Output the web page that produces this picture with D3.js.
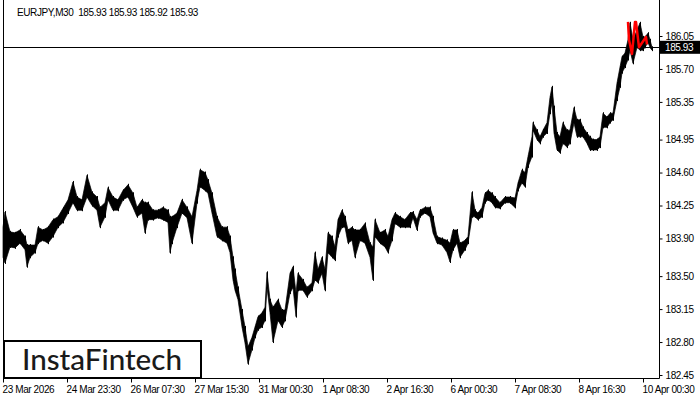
<!DOCTYPE html>
<html lang="en">
	<head>
		<meta charset="utf-8">
		<title>EURJPY M30</title>
		<script type="text/javascript" src="https://cdn.jsdelivr.net/npm/d3@7"></script>
		<style type="text/css">
			body { margin: 0; background: #fff; }
		</style>
	</head>
	<body>
		<script type="text/javascript">

		//Chart data (M30 bars, sampled: bar number, high, low)
		var symbol = "EURJPY,M30";
		var lastQuote = [185.93, 185.93, 185.92, 185.93];
		var lastPrice = 185.93;

		var barIdx = [0,2,7,12,17,22,24,27,32,35,40,45,50,55,60,65,70,74,79,84,
			89,94,97,102,105,110,115,120,125,130,134,139,142,145,150,155,160,165,167,169,
			174,179,184,189,194,197,202,205,209,214,219,224,227,230,232,235,239,242,245,249,
			252,255,259,262,264,267,270,275,279,282,287,290,293,295,300,304,309,312,315,319,
			322,325,329,332,335,339,342,345,349,352,357,362,367,370,372,377,382,385,389,392,
			397,402,407,410,414,417,422,427,430,434,439,444,447,450,454,457,462,465,469,472,
			475,479,482,485,489,492,497,502,507,512,515,519,522,525,529,530,534,537,540,544,
			547,549,551,554,557,560,564,567,571,574,577,580,584,587,590,594,597,600,604,607,
			610,614,617,619,622,625,627,630,634,637,640,642,645,647,649];

		var highs = [184.02,184.18,183.97,183.96,183.99,183.92,183.83,183.83,183.83,184.02,
			183.99,184.02,184.10,184.13,184.22,184.31,184.50,184.34,184.31,184.57,
			184.39,184.34,184.23,184.28,184.44,184.34,184.31,184.41,184.47,184.38,
			184.23,184.31,184.28,184.28,184.20,184.20,184.23,184.20,184.13,184.13,
			184.17,184.31,184.23,184.13,184.41,184.63,184.60,184.52,184.38,184.13,
			184.02,184.02,183.92,183.70,183.57,183.38,183.14,182.96,182.75,182.85,
			182.96,183.07,183.11,183.17,183.54,183.25,183.17,183.25,183.14,183.14,
			183.53,183.60,183.32,183.53,183.46,183.38,183.43,183.75,183.57,183.70,
			183.57,183.96,183.92,183.81,184.10,184.20,184.13,183.99,184.02,183.99,
			183.99,184.06,183.85,183.81,184.10,183.96,183.99,183.92,184.10,184.17,
			184.13,184.10,184.17,184.18,184.10,184.20,184.23,184.23,184.13,183.92,
			183.90,183.88,183.85,183.99,183.99,183.85,183.88,183.92,184.39,184.20,
			184.17,184.23,184.38,184.41,184.38,184.34,184.28,184.34,184.34,184.33,
			184.49,184.63,184.60,184.77,184.98,185.13,185.05,184.98,185.05,185.13,
			185.40,185.51,185.30,185.02,184.98,185.13,185.05,185.05,185.29,185.16,
			185.16,185.08,185.02,184.98,184.95,184.95,184.98,185.23,185.19,185.23,
			185.23,185.55,185.72,185.83,185.87,186.01,186.19,186.01,186.11,186.19,
			186.04,186.04,186.08,186.01,185.93];

		var lows = [183.70,183.64,183.81,183.80,183.85,183.78,183.60,183.70,183.75,183.85,
			183.88,183.85,183.92,184.02,184.07,184.17,184.28,184.20,184.20,184.34,
			184.25,184.20,184.02,184.13,184.31,184.20,184.20,184.31,184.34,184.23,
			184.13,184.17,183.96,184.10,184.10,184.12,184.10,184.07,183.75,183.85,
			184.02,184.17,184.12,183.85,184.28,184.45,184.41,184.38,184.17,183.92,
			183.88,183.85,183.75,183.46,183.35,183.25,182.96,182.79,182.57,182.72,
			182.85,182.93,182.96,183.03,183.38,183.11,182.80,183.03,182.96,183.03,
			183.32,183.38,183.07,183.35,183.35,183.28,183.35,183.46,183.43,183.53,
			183.35,183.75,183.70,183.67,183.92,184.02,184.02,183.85,183.88,183.70,
			183.88,183.85,183.70,183.46,183.92,183.85,183.81,183.75,183.88,184.06,
			184.02,184.02,184.02,184.12,183.99,184.13,184.17,184.13,183.96,183.85,
			183.83,183.75,183.65,183.78,183.85,183.70,183.78,183.85,184.13,184.13,
			184.10,184.13,184.28,184.31,184.28,184.23,184.22,184.28,184.28,184.23,
			184.41,184.49,184.45,184.66,184.77,185.05,184.95,184.91,184.98,185.02,
			185.23,185.34,185.02,184.84,184.81,184.91,184.87,184.91,185.13,184.98,
			184.98,184.98,184.91,184.84,184.84,184.84,184.87,185.08,185.08,185.13,
			185.16,185.37,185.51,185.66,185.72,185.80,185.90,185.76,185.93,185.90,
			185.90,185.93,185.98,185.93,185.90];

		//Red pattern line
		var patternIdx = [625, 626, 629, 632, 633, 636, 643, 644];
		var patternPrice = [186.20, 186.01, 185.86, 186.20, 186.20, 185.93, 186.04, 185.96];

		//Axis labels
		var priceTicks = [186.05, 185.70, 185.35, 184.95, 184.60, 184.25, 183.90, 183.50, 183.15, 182.80, 182.45];
		var timeTickIdx = [0, 64, 128, 192, 256, 320, 384, 448, 512, 576, 640];
		var timeLabels = ["23 Mar 2026", "24 Mar 23:30", "26 Mar 07:30", "27 Mar 15:30", "31 Mar 00:30",
			"1 Apr 08:30", "2 Apr 16:30", "6 Apr 00:30", "7 Apr 08:30", "8 Apr 16:30", "10 Apr 00:30"];

		//Width and height
		var w = 700;
		var h = 400;
		var left = 3, right = 659, bottom = 378;
		var font = "Liberation Sans, Arial, sans-serif";

		var svg = d3.select("body")
					.append("svg")
					.attr("width", w)
					.attr("height", h);

		svg.append("rect").attr("width", w).attr("height", h).attr("fill", "#fff");

		var x = d3.scaleLinear().domain([0, 656]).range([left, right]);
		var y = d3.scaleLinear().domain([182.45, 186.05]).range([375, 36]);

		var bars = barIdx.map(function(d, i) { return { i: d, hi: highs[i], lo: lows[i] }; });

		//Price band (bars)
		var area = d3.area()
					.x(function(d) { return x(d.i); })
					.y0(function(d) { return y(d.lo); })
					.y1(function(d) { return y(d.hi); });

		svg.append("path")
			.datum(bars)
			.attr("d", area)
			.attr("fill", "#000")
			.attr("stroke", "#000")
			.attr("stroke-width", 0.7);

		//High-low bars at each sample
		svg.selectAll("line.bar")
			.data(bars)
			.enter()
			.append("line")
			.attr("class", "bar")
			.attr("x1", function(d) { return Math.round(x(d.i)) + 0.5; })
			.attr("x2", function(d) { return Math.round(x(d.i)) + 0.5; })
			.attr("y1", function(d) { return y(d.hi) - 1; })
			.attr("y2", function(d) { return y(d.lo) + 1; })
			.attr("stroke", "#000")
			.attr("stroke-width", 1);

		//Current price line
		svg.append("line")
			.attr("x1", left).attr("x2", right)
			.attr("y1", Math.round(y(lastPrice)) + 0.5).attr("y2", Math.round(y(lastPrice)) + 0.5)
			.attr("stroke", "#000").attr("stroke-width", 1);

		//Pattern
		var line = d3.line()
					.x(function(d, i) { return x(patternIdx[i]); })
					.y(function(d) { return y(d); });
		svg.append("path")
			.datum(patternPrice)
			.attr("d", line)
			.attr("fill", "none")
			.attr("stroke", "#ff0000")
			.attr("stroke-width", 2.5)
			.attr("stroke-linejoin", "round");

		//Frame
		svg.append("path")
			.attr("d", "M" + (left + 0.5) + ",0V" + (bottom + 0.5) + "H" + (right + 0.5) + "V0")
			.attr("fill", "none")
			.attr("stroke", "#000")
			.attr("stroke-width", 1);

		//Right axis
		var yAxis = d3.axisRight(y)
					.tickValues(priceTicks)
					.tickSize(3)
					.tickPadding(3)
					.tickFormat(d3.format(".2f"));
		var gy = svg.append("g")
					.attr("transform", "translate(" + (right + 0.5) + ",0)")
					.call(yAxis);
		gy.select(".domain").remove();
		gy.selectAll("text")
			.attr("font-size", 10)
			.attr("letter-spacing", "-0.4px")
			.attr("fill", "#000")
			.attr("font-family", font);

		//Bottom axis
		var xAxis = d3.axisBottom(x)
					.tickValues(timeTickIdx)
					.tickSize(4)
					.tickPadding(3)
					.tickFormat(function(d, i) { return timeLabels[i]; });
		var gx = svg.append("g")
					.attr("transform", "translate(0," + (bottom + 0.5) + ")")
					.call(xAxis);
		gx.select(".domain").remove();
		gx.selectAll("text")
			.attr("text-anchor", "start")
			.attr("dx", -1)
			.attr("font-size", 10)
			.attr("letter-spacing", "-0.4px")
			.attr("fill", "#000")
			.attr("font-family", font);

		//Current price label
		var py = y(lastPrice);
		svg.append("rect")
			.attr("x", right + 1).attr("y", py - 6.5)
			.attr("width", 40).attr("height", 13)
			.attr("fill", "#000");
		svg.append("text")
			.attr("x", 665).attr("y", py + 4)
			.attr("font-family", font)
			.attr("font-size", 10)
			.attr("letter-spacing", "-0.4px")
			.attr("fill", "#fff")
			.text(d3.format(".2f")(lastPrice));

		//Title
		svg.append("text")
			.attr("x", 17).attr("y", 15.5)
			.attr("font-family", font)
			.attr("font-size", 10)
			.attr("letter-spacing", "-0.4px")
			.attr("fill", "#000")
			.style("white-space", "pre")
			.text(symbol + "  " + lastQuote.map(d3.format(".2f")).join(" "));

		//Logo
		svg.append("rect")
			.attr("x", 4).attr("y", 341)
			.attr("width", 197).attr("height", 37)
			.attr("fill", "#fff")
			.attr("stroke", "#000")
			.attr("stroke-width", 2);
		svg.append("text")
			.attr("x", 22).attr("y", 370)
			.attr("font-family", "Lato, sans-serif")
			.attr("font-size", 28)
			.attr("font-weight", 500)
			.attr("fill", "#1a1a1a")
			.attr("textLength", 160)
			.attr("lengthAdjust", "spacingAndGlyphs")
			.text("InstaFintech");

		</script>
	</body>
</html>
